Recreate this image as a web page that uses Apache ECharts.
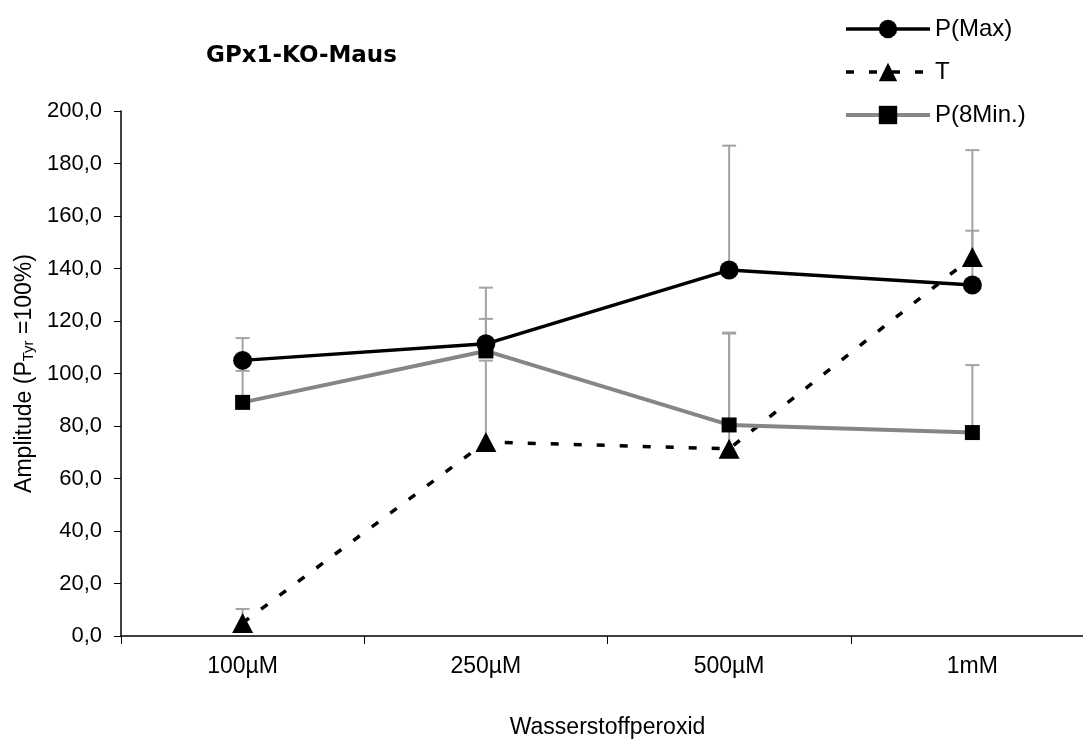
<!DOCTYPE html>
<html>
<head>
<meta charset="utf-8">
<script src="https://cdn.jsdelivr.net/npm/echarts@6/dist/echarts.min.js"></script>
<style>
  html, body { margin: 0; padding: 0; background: #fff; overflow: hidden; }
  #chart { width: 1083px; height: 740px; }
</style>
</head>
<body>
<div id="chart"></div>
<script>
// Hydrogen peroxide concentrations on the x axis
var categories = ['100µM', '250µM', '500µM', '1mM'];

// Mean amplitudes (% of P_Tyr) and their standard deviations (upper error bars)
var pMax = [105.0, 111.3, 139.4, 133.7];
var pMaxSd = [8.5, 9.5, 47.4, 51.4];

var tVals = [5.0, 73.9, 71.3, 144.4];
var tSd = [5.3, 31.0, 44.3, 10.0];

var p8Min = [89.0, 108.6, 80.4, 77.5];
var p8MinSd = [12.0, 24.1, 34.8, 25.7];

// Y axis tick labels (0 to 200 in steps of 20)
var yTickLabels = ['0,0', '20,0', '40,0', '60,0', '80,0', '100,0', '120,0', '140,0', '160,0', '180,0', '200,0'];

var FONT = '"Liberation Sans", Arial, sans-serif';
var ERR_COLOR = '#a3a3a3';

function errorData(means, sds) {
  return means.map(function (m, i) { return [i, m, m + sds[i]]; });
}

// Upper-only error bar: stem from the mean up to mean + SD, with a cap
function renderErrorBar(params, api) {
  var x = api.value(0);
  var base = api.coord([x, api.value(1)]);
  var top = api.coord([x, api.value(2)]);
  var half = 7;
  var style = { stroke: ERR_COLOR, lineWidth: 2, fill: null };
  return {
    type: 'group',
    children: [
      { type: 'line', shape: { x1: base[0], y1: base[1], x2: top[0], y2: top[1] }, style: style },
      { type: 'line', shape: { x1: top[0] - half, y1: top[1], x2: top[0] + half, y2: top[1] }, style: style }
    ]
  };
}

function errorSeries(means, sds) {
  return {
    type: 'custom',
    renderItem: renderErrorBar,
    data: errorData(means, sds),
    z: 1,
    silent: true,
    tooltip: { show: false }
  };
}

var chart = echarts.init(document.getElementById('chart'), null, { renderer: 'canvas' });

chart.setOption({
  backgroundColor: '#ffffff',
  animation: false,
  title: {
    text: 'GPx1-KO-Maus',
    left: 201,
    top: 40,
    textStyle: {
      fontFamily: '"DejaVu Sans", sans-serif',
      fontWeight: 'bold',
      fontSize: 23,
      color: '#000'
    }
  },
  legend: {
    orient: 'vertical',
    left: 839,
    top: 12,
    itemWidth: 84,
    itemHeight: 23,
    itemGap: 19,
    data: ['P(Max)', 'T', 'P(8Min.)'],
    lineStyle: { width: 'inherit' },
    textStyle: { fontFamily: FONT, fontSize: 24, lineHeight: 23, color: '#000' }
  },
  grid: {
    left: 121,
    top: 111,
    width: 973,
    height: 525,
    containLabel: false,
    outerBoundsMode: 'none'
  },
  xAxis: {
    type: 'category',
    data: categories,
    boundaryGap: true,
    name: 'Wasserstoffperoxid',
    nameLocation: 'middle',
    nameGap: 80,
    nameTextStyle: { fontFamily: FONT, fontSize: 23, color: '#000' },
    axisLine: { lineStyle: { color: '#000', width: 1.5 } },
    axisTick: { show: true, length: 8, lineStyle: { color: '#000', width: 1 } },
    axisLabel: { fontFamily: FONT, fontSize: 23, color: '#000', margin: 19 },
    splitLine: { show: false }
  },
  yAxis: {
    type: 'value',
    min: 0,
    max: 200,
    interval: 20,
    name: '{a|Amplitude (P}{s|Tyr}{a| =100%)}',
    nameLocation: 'middle',
    nameGap: 77,
    nameRotate: 90,
    nameTextStyle: {
      rich: {
        a: { fontFamily: FONT, fontSize: 23, color: '#000', verticalAlign: 'bottom', lineHeight: 26 },
        s: { fontFamily: FONT, fontSize: 15, color: '#000', verticalAlign: 'bottom', lineHeight: 26 }
      }
    },
    axisLine: { show: true, lineStyle: { color: '#000', width: 1.5 } },
    axisTick: { show: true, length: 7, lineStyle: { color: '#000', width: 1 } },
    axisLabel: {
      fontFamily: FONT,
      fontSize: 22,
      color: '#000',
      margin: 19,
      formatter: function (v) { return yTickLabels[Math.round(v / 20)]; }
    },
    splitLine: { show: false }
  },
  series: [
    errorSeries(pMax, pMaxSd),
    errorSeries(tVals, tSd),
    errorSeries(p8Min, p8MinSd),
    {
      name: 'P(Max)',
      type: 'line',
      data: pMax,
      z: 3,
      symbol: 'circle',
      symbolSize: 19,
      lineStyle: { color: '#000', width: 3.5 },
      itemStyle: { color: '#000' }
    },
    {
      name: 'T',
      type: 'line',
      data: tVals,
      z: 3,
      symbol: 'triangle',
      symbolSize: [21, 20],
      lineStyle: { color: '#000', width: 3.5, type: [8, 15] },
      itemStyle: { color: '#000' }
    },
    {
      name: 'P(8Min.)',
      type: 'line',
      data: p8Min,
      z: 3,
      symbol: 'rect',
      symbolSize: 15,
      lineStyle: { color: '#868686', width: 4 },
      itemStyle: { color: '#000' }
    }
  ]
});
</script>
</body>
</html>
